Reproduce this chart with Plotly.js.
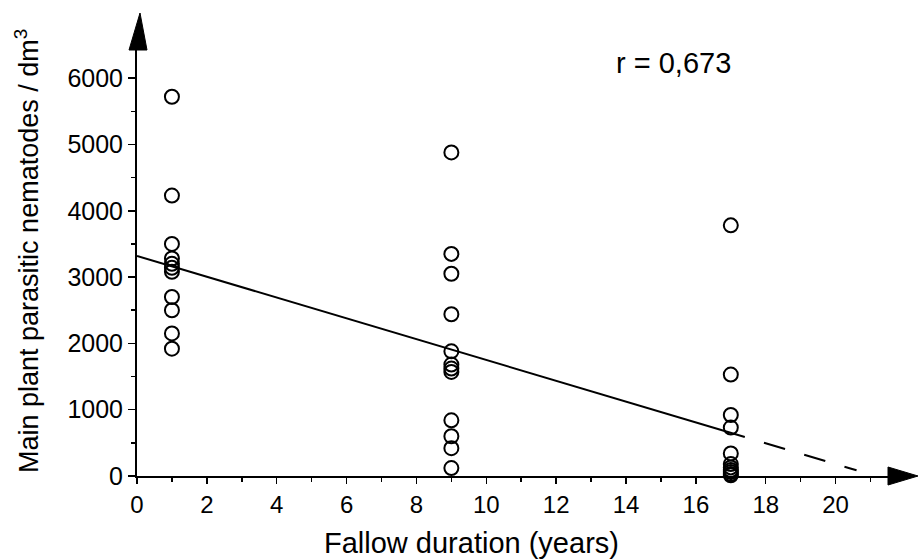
<!DOCTYPE html>
<html>
<head>
<meta charset="utf-8">
<script src="https://cdn.plot.ly/plotly-3.0.1.min.js"></script>
<style>html,body{margin:0;padding:0;background:#fff;}#chart{width:918px;height:560px;}</style>
</head>
<body>
<div id="chart"></div>
<script>
// Data
const fallowYears = [1, 9, 17];
const year1Counts = [5720, 4230, 3500, 3280, 3200, 3140, 3080, 2700, 2500, 2150, 1920];
const year9Counts = [4880, 3350, 3050, 2440, 1880, 1680, 1620, 1570, 840, 600, 420, 120];
const year17Counts = [3780, 1530, 920, 730, 340, 180, 130, 90, 60, 30, 10];
const xTickVals = [0, 2, 4, 6, 8, 10, 12, 14, 16, 18, 20];
const yTickVals = [0, 1000, 2000, 3000, 4000, 5000, 6000];
const fitIntercept = 3320;
const fitSlope = -157;
const fitSolidX = [0, 17.4];
const fitDashX = [17.4, 20.6];
const rLabel = 'r = 0,673';
const xTitle = 'Fallow duration (years)';
const yTitle = 'Main plant parasitic nematodes / dm<sup>3</sup>';

const groups = [year1Counts, year9Counts, year17Counts];
const ptsX = [], ptsY = [];
groups.forEach((g, i) => g.forEach(v => { ptsX.push(fallowYears[i]); ptsY.push(v); }));
const fitY = xs => xs.map(x => fitIntercept + fitSlope * x);

const FONT = 'Liberation Sans, Arial, Helvetica, sans-serif';

const traces = [
  {x: fitSolidX, y: fitY(fitSolidX), mode: 'lines', line: {color: '#000', width: 2}, hoverinfo: 'skip', cliponaxis: false},
  {x: fitDashX, y: fitY(fitDashX), mode: 'lines', line: {color: '#000', width: 2, dash: '0px,20px,22px,20px,22px,20px,8px'}, hoverinfo: 'skip', cliponaxis: false},
  {x: ptsX, y: ptsY, mode: 'markers', cliponaxis: false,
   marker: {symbol: 'circle-open', size: 14, color: '#000', line: {width: 2, color: '#000'}}}
];

const layout = {
  width: 918, height: 560,
  margin: {l: 137, r: 30, t: 50, b: 84},
  paper_bgcolor: '#fff', plot_bgcolor: '#fff',
  showlegend: false,
  font: {family: FONT, color: '#000'},
  xaxis: {
    range: [0, 21.5], showgrid: false, zeroline: false,
    showline: true, linecolor: '#000', linewidth: 2,
    ticks: 'outside', ticklen: 6, tickwidth: 1.5, tickcolor: '#000',
    tickvals: xTickVals, ticktext: xTickVals.map(String),
    tickfont: {size: 24, family: FONT, color: '#000'},
    minor: {ticks: 'outside', dtick: 1, tick0: 0, ticklen: 4, tickwidth: 1.5, tickcolor: '#000', showgrid: false}
  },
  yaxis: {
    range: [0, 6425], showgrid: false, zeroline: false,
    showline: true, linecolor: '#000', linewidth: 2,
    ticks: 'outside', ticklen: 7, tickwidth: 1.5, tickcolor: '#000',
    tickvals: yTickVals, ticktext: yTickVals.map(String),
    tickfont: {size: 25, family: FONT, color: '#000'},
    minor: {ticks: 'outside', dtick: 500, tick0: 0, ticklen: 4, tickwidth: 1.5, tickcolor: '#000', showgrid: false}
  },
  shapes: [
    {type: 'path', xref: 'paper', yref: 'paper', xsizemode: 'pixel', ysizemode: 'pixel',
     xanchor: 0, yanchor: 1, path: 'M -8,0 L 10,0 L 3,37 Z',
     fillcolor: '#000', line: {color: '#000', width: 1}},
    {type: 'path', xref: 'paper', yref: 'paper', xsizemode: 'pixel', ysizemode: 'pixel',
     xanchor: 1, yanchor: 0, path: 'M 0,9 L 0,-9 L 30,0 Z',
     fillcolor: '#000', line: {color: '#000', width: 1}}
  ],
  annotations: [
    {text: rLabel, xref: 'paper', yref: 'paper', x: (673 - 137) / 751, y: (476 - 63) / 426,
     xanchor: 'center', yanchor: 'middle', showarrow: false, font: {size: 29, family: FONT, color: '#000'}},
    {text: xTitle, xref: 'paper', yref: 'paper', x: (471 - 137) / 751, y: (476 - 543) / 426,
     xanchor: 'center', yanchor: 'middle', showarrow: false, font: {size: 29, family: FONT, color: '#000'}},
    {text: yTitle, xref: 'paper', yref: 'paper', x: (27 - 137) / 751, y: (476 - 251) / 426,
     xanchor: 'center', yanchor: 'middle', textangle: -90, showarrow: false, font: {size: 27, family: FONT, color: '#000'}}
  ]
};

Plotly.newPlot('chart', traces, layout, {staticPlot: true, displayModeBar: false});
</script>
</body>
</html>
